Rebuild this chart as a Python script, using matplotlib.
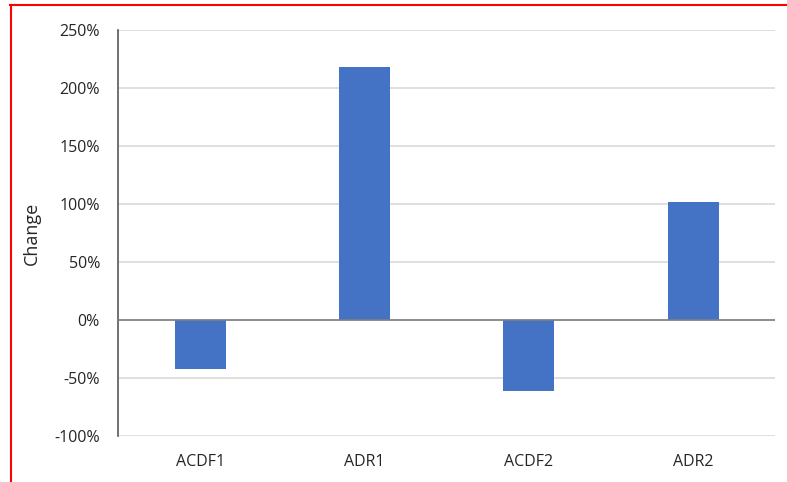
import matplotlib.pyplot as plt
from matplotlib.lines import Line2D
from matplotlib.ticker import FuncFormatter

categories = ['ACDF1', 'ADR1', 'ACDF2', 'ADR2']
change_pct = [-42, 218, -61, 102]
y_ticks = [-100, -50, 0, 50, 100, 150, 200, 250]

plt.rcParams['font.family'] = ['Open Sans', 'DejaVu Sans']

fig = plt.figure(figsize=(7.87, 4.82), dpi=100)
ax = fig.add_axes([0.150, 0.0954, 0.835, 0.8424])

x = range(len(categories))
ax.bar(x, change_pct, width=0.31, color='#4472C4', zorder=3)

ax.set_xlim(-0.5, len(categories) - 0.5)
ax.set_ylim(-100, 250)
ax.set_yticks(y_ticks)
ax.yaxis.set_major_formatter(FuncFormatter(lambda v, p: f'{int(v)}%'))
ax.set_xticks(list(x))
ax.set_xticklabels(categories)
ax.tick_params(axis='both', length=0, labelsize=11.5, colors='#262626')
ax.tick_params(axis='y', pad=13)
ax.tick_params(axis='x', pad=13)

ax.grid(axis='y', color='#d9d9d9', linewidth=1.2, zorder=0)
ax.axhline(0, color='#7f7f7f', linewidth=1.2, zorder=4)
for side in ['top', 'right', 'bottom']:
    ax.spines[side].set_visible(False)
ax.spines['left'].set_color('#595959')
ax.spines['left'].set_linewidth(1.2)

ax.set_ylabel('Change', fontsize=13, color='#262626', labelpad=10)

# red frame (top and left edges)
fig.add_artist(Line2D([10 / 787, 1], [1 - 5 / 482] * 2, transform=fig.transFigure,
                      color='#ff0000', linewidth=1.5))
fig.add_artist(Line2D([11 / 787] * 2, [0, 1 - 5 / 482], transform=fig.transFigure,
                      color='#ff0000', linewidth=1.5))

fig.savefig('out.png', dpi=100)
